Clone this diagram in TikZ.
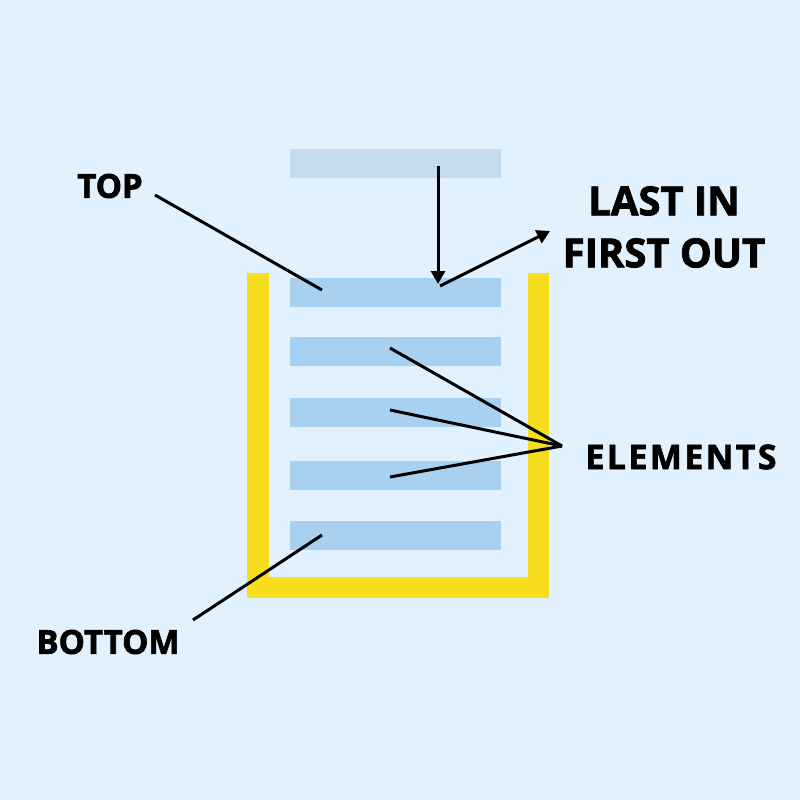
\documentclass[tikz,border=0pt]{standalone}
\usepackage{fontspec}
\setmainfont{Open Sans}[BoldFeatures={FakeBold=2}]
\usepackage{tikz}
\usetikzlibrary{arrows.meta,positioning,calc}
\definecolor{bgblue}{HTML}{E1F1FD}
\definecolor{barblue}{HTML}{A8D0F0}
\definecolor{fadeblue}{HTML}{C4DCED}
\definecolor{stackyellow}{HTML}{F6DD1E}

\begin{document}
\begin{tikzpicture}[x=1pt,y=-1pt,
  elem/.style={fill=#1,draw=none,minimum width=211pt,minimum height=29pt,inner sep=0pt},
  wall/.style={fill=stackyellow,draw=none},
  lbl/.style={font=\fontsize{33}{40}\selectfont\bfseries,inner sep=0pt,align=center},
  ptr/.style={line width=3pt},
  arr/.style={line width=3pt,-{Triangle[length=13pt,width=14pt]}}]
\fill[bgblue] (0,0) rectangle (800,800);
\useasboundingbox (0,0) rectangle (800,800);
% container
\fill[wall] (247,273) rectangle (269,598);
\fill[wall] (528,273) rectangle (549,598);
\fill[wall] (247,577) rectangle (549,598);
% elements
\node[elem=fadeblue] (new) at (395,163.5) {};
\node[elem=barblue] (e1) at (395,292) {};
\node[elem=barblue] (e2) at (395,351) {};
\node[elem=barblue] (e3) at (395,412) {};
\node[elem=barblue] (e4) at (395,475) {};
\node[elem=barblue] (e5) at (395,535) {};
% labels
\node[lbl] (top) at (110,186) {TOP};
\node[lbl,font=\fontsize{40}{52}\selectfont\bfseries] (lifo) at (664,227) {LAST IN\\FIRST OUT};
\node[lbl,font=\fontsize{34}{40}\selectfont\bfseries\addfontfeature{LetterSpace=7}] (elems) at (681,457) {ELEMENTS};
\node[lbl] (bot) at (108,642) {BOTTOM};
% pointer ends
\coordinate (topA) at (155,195);
\coordinate (topB) at (322,290);
\coordinate (botA) at (193,620);
\coordinate (botB) at (322,535);
\coordinate (hub) at (562,446);
\coordinate (p2) at (390,348);
\coordinate (p3) at (390,410);
\coordinate (p4) at (390,477);
\coordinate (pushA) at (438,166);
\coordinate (pushB) at (438,284);
\coordinate (popA) at (440,286);
\coordinate (popB) at (550,231);
\draw[ptr] (topA) -- (topB);
\draw[ptr] (botA) -- (botB);
\foreach \p in {p2,p3,p4} \draw[ptr] (\p) -- (hub);
\draw[arr] (pushA) -- (pushB);
\draw[arr] (popA) -- (popB);
\end{tikzpicture}
\end{document}
